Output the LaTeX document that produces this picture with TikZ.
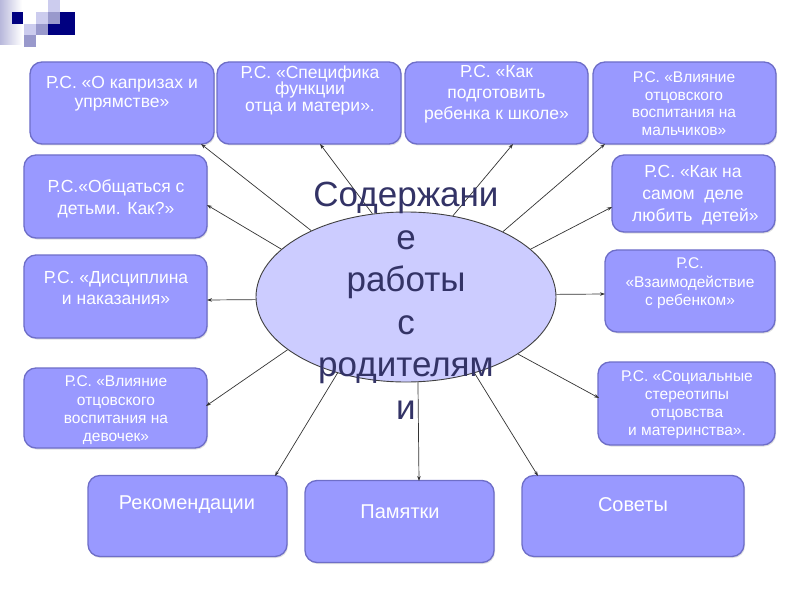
\documentclass[tikz,border=0pt]{standalone}
\usepackage{fontspec}
\setmainfont{Liberation Sans}
\usetikzlibrary{arrows.meta,shapes.geometric,shadows}
\definecolor{boxfill}{HTML}{9999FF}
\definecolor{boxline}{HTML}{6E6EC8}
\definecolor{ellfill}{HTML}{CCCCFF}
\definecolor{titlecol}{HTML}{333366}
\definecolor{navy}{HTML}{000080}
\definecolor{lilac}{HTML}{CCCCEE}
\definecolor{midlilac}{HTML}{9999CC}
\definecolor{arrowcol}{HTML}{333333}
\tikzset{
  box/.style={draw=boxline, line width=1.3bp, fill=boxfill, rounded corners=12bp,
    inner sep=0pt, drop shadow={shadow xshift=1bp, shadow yshift=-1.5bp, opacity=0.25}},
  btxt/.style={text=white, align=center, inner sep=0pt},
  conn/.style={draw=arrowcol, line width=0.7bp, -{Stealth[length=5bp,width=3.5bp]}}
}
\newcommand{\fs}[2]{\fontsize{#1bp}{#2bp}\selectfont}
\begin{document}
\begin{tikzpicture}[x=1bp,y=-1bp]
\useasboundingbox (0,0) rectangle (800,600);
\fill[white] (0,0) rectangle (800,600);
% decoration
\shade[left color=midlilac!70, right color=white] (0,0) rectangle (22,45);
\fill[navy] (12,12) rectangle (23,24);
\fill[lilac] (36,12) rectangle (48,24);
\fill[lilac] (48,0) rectangle (60,12);
\fill[midlilac] (48,12) rectangle (60,24);
\fill[navy] (60,12) rectangle (75,35);
\fill[navy] (48,24) rectangle (60,35);
\fill[lilac] (24,24) rectangle (36,35);
\fill[midlilac] (36,24) rectangle (48,35);
\fill[midlilac] (24,35) rectangle (36,47);

% boxes
\node[box, minimum width=184bp, minimum height=82bp] (b1) at (122,103) {};
\node[box, minimum width=184bp, minimum height=82bp] (b2) at (309,103) {};
\node[box, minimum width=183bp, minimum height=82bp] (b3) at (496.5,103) {};
\node[box, minimum width=183bp, minimum height=82bp] (b4) at (684.5,103) {};
\node[box, minimum width=183bp, minimum height=83bp] (b5) at (115.5,196.5) {};
\node[box, minimum width=183bp, minimum height=83bp] (b6) at (115.5,296.5) {};
\node[box, minimum width=183bp, minimum height=80bp] (b7) at (115.5,408) {};
\node[box, minimum width=163bp, minimum height=77bp] (b8) at (693.5,193.5) {};
\node[box, minimum width=170bp, minimum height=82bp] (b9) at (690,291) {};
\node[box, minimum width=177bp, minimum height=83bp] (b10) at (686.5,403.5) {};
\node[box, minimum width=199bp, minimum height=81bp] (b11) at (187.5,516) {};
\node[box, minimum width=189bp, minimum height=82bp] (b12) at (399.5,521.5) {};
\node[box, minimum width=222bp, minimum height=81bp] (b13) at (633,516) {};

% box texts
\node[btxt, font=\fs{17.5}{19}] (l1) at (122,94) {Р.С. «О капризах и\\упрямстве»};
\node[btxt, font=\fs{17.5}{16.5}] (l2) at (310,90) {Р.С. «Специфика\\функции\\отца и матери».};
\node[btxt, font=\fs{17.5}{21}] (l3) at (496.5,94) {Р.С. «Как\\подготовить\\ребенка к школе»};
\node[btxt, font=\fs{15.5}{17.5}] (l4) at (684,103.5) {Р.С. «Влияние\\отцовского\\воспитания на\\мальчиков»};
\node[btxt, font=\fs{17.5}{22}] (l5) at (116,199) {Р.С.«Общаться с\\детьми. Как?»};
\node[btxt, font=\fs{17.5}{21}] (l6) at (116,287.5) {Р.С. «Дисциплина\\и наказания»};
\node[btxt, font=\fs{15.5}{18.3}] (l7) at (116,410.5) {Р.С. «Влияние\\отцовского\\воспитания на\\девочек»};
\node[btxt, font=\fs{17.5}{22}] (l8) at (693,195) {Р.С. «Как на\\самом\ \ деле\\\ любить\ \ детей»};
\node[btxt, font=\fs{15.5}{18.5}] (l9) at (690,283.5) {Р.С.\\«Взаимодействие\\с ребенком»};
\node[btxt, font=\fs{15.5}{18}] (l10) at (687,405) {Р.С. «Социальные\\стереотипы\\отцовства\\и материнства».};
\node[btxt, font=\fs{20}{22}] (l11) at (187,505) {Рекомендации};
\node[btxt, font=\fs{20}{22}] (l12) at (400,512) {Памятки};
\node[btxt, font=\fs{20}{22}] (l13) at (633,505) {Советы};

% central ellipse
\node[ellipse, draw=black!75, line width=0.9bp, fill=ellfill, minimum width=300bp, minimum height=170bp, inner sep=0pt] (ell) at (406,297) {};

% arrow tips
\coordinate (t1) at (201,144);
\coordinate (t2) at (320,144);
\coordinate (t3) at (513,144);
\coordinate (t4) at (605,144);
\coordinate (t5) at (207,205);
\coordinate (t6) at (207,300);
\coordinate (t7) at (206,406);
\coordinate (t8) at (612,207);
\coordinate (t9) at (605,294);
\coordinate (t10) at (599,398);
\coordinate (t11) at (275,476);
\coordinate (t12) at (419,481);
\coordinate (t13) at (538,476);

\draw[conn] (ell.145.9) -- (t1);
\draw[conn] (ell.112) -- (t2);
\draw[conn] (ell.60.9) -- (t3);
\draw[conn] (ell.34.1) -- (t4);
\draw[conn] (ell.159.5) -- (t5);
\draw[conn] (ell.181) -- (t6);
\draw[conn] (ell.204.2) -- (t7);
\draw[conn] (ell.21.3) -- (t8);
\draw[conn] (ell.1) -- (t9);
\draw[conn] (ell.333.8) -- (t10);
\draw[conn] (ell.228.7) -- (t11);
\draw[conn] (ell.278.8) -- (t12);
\draw[conn] (ell.312.2) -- (t13);

% title text
\node[text=titlecol, align=center, inner sep=0pt, anchor=north, font=\fs{35}{42.5}] (title) at (406,182) {Содержани\\е\\работы\\с\\родителям\\и};
\end{tikzpicture}
\end{document}
